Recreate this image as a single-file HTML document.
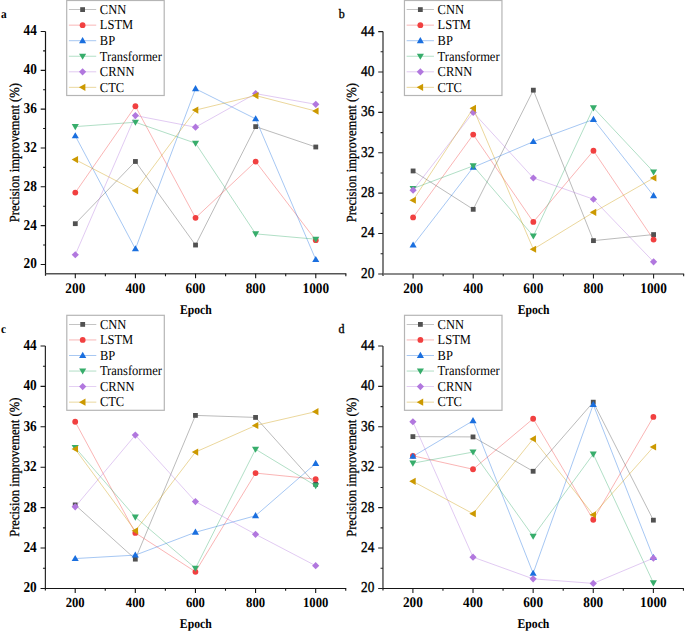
<!DOCTYPE html>
<html><head><meta charset="utf-8"><style>
html,body{margin:0;padding:0;background:#fff;}
svg{display:block;}
text{font-family:"Liberation Serif",serif;fill:#000;text-rendering:geometricPrecision;-webkit-font-smoothing:antialiased;}
.tk{font-size:13.3px;}
.ep{font-size:11.7px;font-weight:bold;}
.yl{font-size:12.6px;stroke:#000;stroke-width:0.25px;}
.lg{font-size:12.5px;}
.pl{font-size:11.3px;}
.pr{font-size:12px;}
</style></head><body>
<svg width="685" height="632" viewBox="0 0 685 632">
<rect width="685" height="632" fill="#fff"/>
<path d="M45.50,31.50V275.75" stroke="#151515" stroke-width="1.2" fill="none"/>
<path d="M45.50,273.75H346.34" stroke="#555" stroke-width="1.4" fill="none"/>
<path d="M40.70,264.45H45.50M40.70,225.62H45.50M40.70,186.80H45.50M40.70,147.97H45.50M40.70,109.15H45.50M40.70,70.33H45.50M40.70,31.50H45.50M43.10,245.04H45.50M43.10,206.21H45.50M43.10,167.39H45.50M43.10,128.56H45.50M43.10,89.74H45.50M43.10,50.91H45.50" stroke="#151515" stroke-width="1.1" fill="none"/>
<path d="M75.30,273.75V278.35M135.42,273.75V278.35M195.54,273.75V278.35M255.66,273.75V278.35M315.78,273.75V278.35M105.36,273.75V276.15M165.48,273.75V276.15M225.60,273.75V276.15M285.72,273.75V276.15M345.84,273.75V276.15" stroke="#151515" stroke-width="1.1" fill="none"/>
<text transform="translate(36.90,268.35) scale(1,1.13)" text-anchor="end" class="tk" font-weight="bold">20</text>
<text transform="translate(36.90,229.53) scale(1,1.13)" text-anchor="end" class="tk" font-weight="bold">24</text>
<text transform="translate(36.90,190.70) scale(1,1.13)" text-anchor="end" class="tk" font-weight="bold">28</text>
<text transform="translate(36.90,151.88) scale(1,1.13)" text-anchor="end" class="tk" font-weight="bold">32</text>
<text transform="translate(36.90,113.05) scale(1,1.13)" text-anchor="end" class="tk" font-weight="bold">36</text>
<text transform="translate(36.90,74.23) scale(1,1.13)" text-anchor="end" class="tk" font-weight="bold">40</text>
<text transform="translate(36.90,35.40) scale(1,1.13)" text-anchor="end" class="tk" font-weight="bold">44</text>
<text transform="translate(75.30,292.55) scale(1,1.1)" text-anchor="middle" class="tk" font-weight="bold">200</text>
<text transform="translate(135.42,292.55) scale(1,1.1)" text-anchor="middle" class="tk" font-weight="bold">400</text>
<text transform="translate(195.54,292.55) scale(1,1.1)" text-anchor="middle" class="tk" font-weight="bold">600</text>
<text transform="translate(255.66,292.55) scale(1,1.1)" text-anchor="middle" class="tk" font-weight="bold">800</text>
<text transform="translate(315.78,292.55) scale(1,1.1)" text-anchor="middle" class="tk" font-weight="bold">1000</text>
<text transform="translate(195.84,313.55) scale(1,1.13)" text-anchor="middle" class="ep">Epoch</text>
<text transform="translate(18.70,152.62) rotate(-90) scale(1,1.1)" text-anchor="middle" class="yl">Precision improvement (%)</text>
<text transform="translate(1.00,18.00) scale(1,1.08)" class="pl" font-weight="bold">a</text>
<path d="M75.30,223.68L135.42,161.47L195.54,245.04L255.66,126.62L315.78,147.00" stroke="#515151" stroke-width="0.75" fill="none" opacity="0.52"/>
<rect x="72.90" y="221.28" width="4.8" height="4.8" fill="#515151"/>
<rect x="133.02" y="159.07" width="4.8" height="4.8" fill="#515151"/>
<rect x="193.14" y="242.64" width="4.8" height="4.8" fill="#515151"/>
<rect x="253.26" y="124.22" width="4.8" height="4.8" fill="#515151"/>
<rect x="313.38" y="144.60" width="4.8" height="4.8" fill="#515151"/>
<path d="M75.30,192.62L135.42,106.24L195.54,217.86L255.66,161.56L315.78,240.18" stroke="#F14040" stroke-width="0.75" fill="none" opacity="0.52"/>
<circle cx="75.30" cy="192.62" r="2.9" fill="#F14040"/>
<circle cx="135.42" cy="106.24" r="2.9" fill="#F14040"/>
<circle cx="195.54" cy="217.86" r="2.9" fill="#F14040"/>
<circle cx="255.66" cy="161.56" r="2.9" fill="#F14040"/>
<circle cx="315.78" cy="240.18" r="2.9" fill="#F14040"/>
<path d="M75.30,135.84L135.42,248.92L195.54,88.77L255.66,118.86L315.78,259.60" stroke="#1A6FDF" stroke-width="0.75" fill="none" opacity="0.52"/>
<path d="M75.30,132.18L78.85,138.28L71.75,138.28Z" fill="#1A6FDF"/>
<path d="M135.42,245.26L138.97,251.36L131.87,251.36Z" fill="#1A6FDF"/>
<path d="M195.54,85.11L199.09,91.21L191.99,91.21Z" fill="#1A6FDF"/>
<path d="M255.66,115.20L259.21,121.30L252.11,121.30Z" fill="#1A6FDF"/>
<path d="M315.78,255.94L319.33,262.04L312.23,262.04Z" fill="#1A6FDF"/>
<path d="M75.30,126.62L135.42,122.25L195.54,143.22L255.66,233.88L315.78,239.21" stroke="#37AD6B" stroke-width="0.75" fill="none" opacity="0.52"/>
<path d="M75.30,130.16L78.85,124.06L71.75,124.06Z" fill="#37AD6B"/>
<path d="M135.42,125.79L138.97,119.69L131.87,119.69Z" fill="#37AD6B"/>
<path d="M195.54,146.76L199.09,140.66L191.99,140.66Z" fill="#37AD6B"/>
<path d="M255.66,237.41L259.21,231.31L252.11,231.31Z" fill="#37AD6B"/>
<path d="M315.78,242.75L319.33,236.65L312.23,236.65Z" fill="#37AD6B"/>
<path d="M75.30,254.74L135.42,115.56L195.54,127.20L255.66,93.62L315.78,104.30" stroke="#B177DE" stroke-width="0.75" fill="none" opacity="0.52"/>
<path d="M75.30,251.14L78.90,254.74L75.30,258.34L71.70,254.74Z" fill="#B177DE"/>
<path d="M135.42,111.96L139.02,115.56L135.42,119.16L131.82,115.56Z" fill="#B177DE"/>
<path d="M195.54,123.60L199.14,127.20L195.54,130.80L191.94,127.20Z" fill="#B177DE"/>
<path d="M255.66,90.02L259.26,93.62L255.66,97.22L252.06,93.62Z" fill="#B177DE"/>
<path d="M315.78,100.70L319.38,104.30L315.78,107.90L312.18,104.30Z" fill="#B177DE"/>
<path d="M75.30,159.62L135.42,190.68L195.54,110.12L255.66,95.56L315.78,111.09" stroke="#CC9900" stroke-width="0.75" fill="none" opacity="0.52"/>
<path d="M71.62,159.62L78.07,156.05L78.07,163.20Z" fill="#CC9900"/>
<path d="M131.74,190.68L138.19,187.11L138.19,194.26Z" fill="#CC9900"/>
<path d="M191.86,110.12L198.31,106.55L198.31,113.70Z" fill="#CC9900"/>
<path d="M251.98,95.56L258.43,91.99L258.43,99.14Z" fill="#CC9900"/>
<path d="M312.10,111.09L318.55,107.52L318.55,114.67Z" fill="#CC9900"/>
<rect x="66.70" y="0.50" width="97.5" height="95.0" fill="#fff" stroke="#b5b5b5" stroke-width="1.2"/>
<path d="M68.90,9.60H96.20" stroke="#515151" stroke-width="0.75" opacity="0.5"/>
<rect x="80.20" y="7.20" width="4.8" height="4.8" fill="#515151"/>
<text transform="translate(99.80,13.90) scale(1,1.1)" class="lg">CNN</text>
<path d="M68.90,25.15H96.20" stroke="#F14040" stroke-width="0.75" opacity="0.5"/>
<circle cx="82.60" cy="25.15" r="2.9" fill="#F14040"/>
<text transform="translate(99.80,29.45) scale(1,1.1)" class="lg">LSTM</text>
<path d="M68.90,40.70H96.20" stroke="#1A6FDF" stroke-width="0.75" opacity="0.5"/>
<path d="M82.60,37.04L86.15,43.14L79.05,43.14Z" fill="#1A6FDF"/>
<text transform="translate(99.80,45.00) scale(1,1.1)" class="lg">BP</text>
<path d="M68.90,56.25H96.20" stroke="#37AD6B" stroke-width="0.75" opacity="0.5"/>
<path d="M82.60,59.79L86.15,53.69L79.05,53.69Z" fill="#37AD6B"/>
<text transform="translate(99.80,60.55) scale(1,1.1)" class="lg">Transformer</text>
<path d="M68.90,71.80H96.20" stroke="#B177DE" stroke-width="0.75" opacity="0.5"/>
<path d="M82.60,68.20L86.20,71.80L82.60,75.40L79.00,71.80Z" fill="#B177DE"/>
<text transform="translate(99.80,76.10) scale(1,1.1)" class="lg">CRNN</text>
<path d="M68.90,87.35H96.20" stroke="#CC9900" stroke-width="0.75" opacity="0.5"/>
<path d="M78.92,87.35L85.37,83.77L85.37,90.92Z" fill="#CC9900"/>
<text transform="translate(99.80,91.65) scale(1,1.1)" class="lg">CTC</text>
<path d="M383.00,31.60V275.95" stroke="#6a6a6a" stroke-width="1.7" fill="none"/>
<path d="M383.00,273.95H684.14" stroke="#666" stroke-width="1.5" fill="none"/>
<path d="M378.20,273.95H383.00M378.20,233.56H383.00M378.20,193.17H383.00M378.20,152.77H383.00M378.20,112.38H383.00M378.20,71.99H383.00M378.20,31.60H383.00M380.60,253.75H383.00M380.60,213.36H383.00M380.60,172.97H383.00M380.60,132.58H383.00M380.60,92.19H383.00M380.60,51.80H383.00" stroke="#222" stroke-width="1.1" fill="none"/>
<path d="M413.10,273.95V278.55M473.22,273.95V278.55M533.34,273.95V278.55M593.46,273.95V278.55M653.58,273.95V278.55M443.16,273.95V276.35M503.28,273.95V276.35M563.40,273.95V276.35M623.52,273.95V276.35M683.64,273.95V276.35" stroke="#222" stroke-width="1.1" fill="none"/>
<text transform="translate(374.40,277.85) scale(1,1.13)" text-anchor="end" class="tk" font-weight="normal" stroke="#000" stroke-width="0.35">20</text>
<text transform="translate(374.40,237.46) scale(1,1.13)" text-anchor="end" class="tk" font-weight="normal" stroke="#000" stroke-width="0.35">24</text>
<text transform="translate(374.40,197.07) scale(1,1.13)" text-anchor="end" class="tk" font-weight="normal" stroke="#000" stroke-width="0.35">28</text>
<text transform="translate(374.40,156.67) scale(1,1.13)" text-anchor="end" class="tk" font-weight="normal" stroke="#000" stroke-width="0.35">32</text>
<text transform="translate(374.40,116.28) scale(1,1.13)" text-anchor="end" class="tk" font-weight="normal" stroke="#000" stroke-width="0.35">36</text>
<text transform="translate(374.40,75.89) scale(1,1.13)" text-anchor="end" class="tk" font-weight="normal" stroke="#000" stroke-width="0.35">40</text>
<text transform="translate(374.40,35.50) scale(1,1.13)" text-anchor="end" class="tk" font-weight="normal" stroke="#000" stroke-width="0.35">44</text>
<text transform="translate(413.10,292.75) scale(1,1.1)" text-anchor="middle" class="tk" font-weight="bold">200</text>
<text transform="translate(473.22,292.75) scale(1,1.1)" text-anchor="middle" class="tk" font-weight="bold">400</text>
<text transform="translate(533.34,292.75) scale(1,1.1)" text-anchor="middle" class="tk" font-weight="bold">600</text>
<text transform="translate(593.46,292.75) scale(1,1.1)" text-anchor="middle" class="tk" font-weight="bold">800</text>
<text transform="translate(653.58,292.75) scale(1,1.1)" text-anchor="middle" class="tk" font-weight="bold">1000</text>
<text transform="translate(533.64,313.75) scale(1,1.13)" text-anchor="middle" class="ep">Epoch</text>
<text transform="translate(356.00,152.78) rotate(-90) scale(1,1.1)" text-anchor="middle" class="yl">Precision improvement (%)</text>
<text transform="translate(338.70,18.00) scale(1,1.08)" class="pr" font-weight="normal" stroke="#000" stroke-width="0.35">b</text>
<path d="M413.10,170.95L473.22,209.32L533.34,90.17L593.46,240.63L653.58,234.57" stroke="#515151" stroke-width="0.75" fill="none" opacity="0.52"/>
<rect x="410.70" y="168.55" width="4.8" height="4.8" fill="#515151"/>
<rect x="470.82" y="206.92" width="4.8" height="4.8" fill="#515151"/>
<rect x="530.94" y="87.77" width="4.8" height="4.8" fill="#515151"/>
<rect x="591.06" y="238.23" width="4.8" height="4.8" fill="#515151"/>
<rect x="651.18" y="232.17" width="4.8" height="4.8" fill="#515151"/>
<path d="M413.10,217.40L473.22,134.60L533.34,221.95L593.46,150.76L653.58,239.62" stroke="#F14040" stroke-width="0.75" fill="none" opacity="0.52"/>
<circle cx="413.10" cy="217.40" r="2.9" fill="#F14040"/>
<circle cx="473.22" cy="134.60" r="2.9" fill="#F14040"/>
<circle cx="533.34" cy="221.95" r="2.9" fill="#F14040"/>
<circle cx="593.46" cy="150.76" r="2.9" fill="#F14040"/>
<circle cx="653.58" cy="239.62" r="2.9" fill="#F14040"/>
<path d="M413.10,245.17L473.22,167.32L533.34,141.67L593.46,119.45L653.58,195.69" stroke="#1A6FDF" stroke-width="0.75" fill="none" opacity="0.52"/>
<path d="M413.10,241.51L416.65,247.61L409.55,247.61Z" fill="#1A6FDF"/>
<path d="M473.22,163.66L476.77,169.76L469.67,169.76Z" fill="#1A6FDF"/>
<path d="M533.34,138.01L536.89,144.11L529.79,144.11Z" fill="#1A6FDF"/>
<path d="M593.46,115.79L597.01,121.89L589.91,121.89Z" fill="#1A6FDF"/>
<path d="M653.58,192.03L657.13,198.13L650.03,198.13Z" fill="#1A6FDF"/>
<path d="M413.10,188.52L473.22,165.90L533.34,236.08L593.46,107.84L653.58,171.96" stroke="#37AD6B" stroke-width="0.75" fill="none" opacity="0.52"/>
<path d="M413.10,192.06L416.65,185.96L409.55,185.96Z" fill="#37AD6B"/>
<path d="M473.22,169.44L476.77,163.34L469.67,163.34Z" fill="#37AD6B"/>
<path d="M533.34,239.62L536.89,233.52L529.79,233.52Z" fill="#37AD6B"/>
<path d="M593.46,111.38L597.01,105.28L589.91,105.28Z" fill="#37AD6B"/>
<path d="M653.58,175.50L657.13,169.40L650.03,169.40Z" fill="#37AD6B"/>
<path d="M413.10,190.14L473.22,112.38L533.34,178.02L593.46,199.23L653.58,261.83" stroke="#B177DE" stroke-width="0.75" fill="none" opacity="0.52"/>
<path d="M413.10,186.54L416.70,190.14L413.10,193.74L409.50,190.14Z" fill="#B177DE"/>
<path d="M473.22,108.78L476.82,112.38L473.22,115.98L469.62,112.38Z" fill="#B177DE"/>
<path d="M533.34,174.42L536.94,178.02L533.34,181.62L529.74,178.02Z" fill="#B177DE"/>
<path d="M593.46,195.63L597.06,199.23L593.46,202.83L589.86,199.23Z" fill="#B177DE"/>
<path d="M653.58,258.23L657.18,261.83L653.58,265.43L649.98,261.83Z" fill="#B177DE"/>
<path d="M413.10,200.24L473.22,108.34L533.34,249.21L593.46,212.35L653.58,178.02" stroke="#CC9900" stroke-width="0.75" fill="none" opacity="0.52"/>
<path d="M409.42,200.24L415.87,196.66L415.87,203.81Z" fill="#CC9900"/>
<path d="M469.54,108.34L475.99,104.77L475.99,111.92Z" fill="#CC9900"/>
<path d="M529.66,249.21L536.11,245.64L536.11,252.79Z" fill="#CC9900"/>
<path d="M589.78,212.35L596.23,208.78L596.23,215.93Z" fill="#CC9900"/>
<path d="M649.90,178.02L656.35,174.44L656.35,181.59Z" fill="#CC9900"/>
<rect x="404.45" y="0.50" width="97.5" height="95.0" fill="#fff" stroke="#b5b5b5" stroke-width="1.2"/>
<path d="M406.65,9.60H433.95" stroke="#515151" stroke-width="0.75" opacity="0.5"/>
<rect x="417.95" y="7.20" width="4.8" height="4.8" fill="#515151"/>
<text transform="translate(437.55,13.90) scale(1,1.1)" class="lg">CNN</text>
<path d="M406.65,25.15H433.95" stroke="#F14040" stroke-width="0.75" opacity="0.5"/>
<circle cx="420.35" cy="25.15" r="2.9" fill="#F14040"/>
<text transform="translate(437.55,29.45) scale(1,1.1)" class="lg">LSTM</text>
<path d="M406.65,40.70H433.95" stroke="#1A6FDF" stroke-width="0.75" opacity="0.5"/>
<path d="M420.35,37.04L423.90,43.14L416.80,43.14Z" fill="#1A6FDF"/>
<text transform="translate(437.55,45.00) scale(1,1.1)" class="lg">BP</text>
<path d="M406.65,56.25H433.95" stroke="#37AD6B" stroke-width="0.75" opacity="0.5"/>
<path d="M420.35,59.79L423.90,53.69L416.80,53.69Z" fill="#37AD6B"/>
<text transform="translate(437.55,60.55) scale(1,1.1)" class="lg">Transformer</text>
<path d="M406.65,71.80H433.95" stroke="#B177DE" stroke-width="0.75" opacity="0.5"/>
<path d="M420.35,68.20L423.95,71.80L420.35,75.40L416.75,71.80Z" fill="#B177DE"/>
<text transform="translate(437.55,76.10) scale(1,1.1)" class="lg">CRNN</text>
<path d="M406.65,87.35H433.95" stroke="#CC9900" stroke-width="0.75" opacity="0.5"/>
<path d="M416.67,87.35L423.12,83.77L423.12,90.92Z" fill="#CC9900"/>
<text transform="translate(437.55,91.65) scale(1,1.1)" class="lg">CTC</text>
<path d="M45.35,346.00V590.45" stroke="#151515" stroke-width="1.1" fill="none"/>
<path d="M45.35,588.45H346.24" stroke="#151515" stroke-width="1.1" fill="none"/>
<path d="M40.55,588.45H45.35M40.55,548.04H45.35M40.55,507.63H45.35M40.55,467.23H45.35M40.55,426.82H45.35M40.55,386.41H45.35M40.55,346.00H45.35M42.95,568.25H45.35M42.95,527.84H45.35M42.95,487.43H45.35M42.95,447.02H45.35M42.95,406.61H45.35M42.95,366.20H45.35" stroke="#151515" stroke-width="1.1" fill="none"/>
<path d="M75.20,588.45V593.05M135.32,588.45V593.05M195.44,588.45V593.05M255.56,588.45V593.05M315.68,588.45V593.05M105.26,588.45V590.85M165.38,588.45V590.85M225.50,588.45V590.85M285.62,588.45V590.85M345.74,588.45V590.85" stroke="#151515" stroke-width="1.1" fill="none"/>
<text transform="translate(36.75,592.35) scale(1,1.13)" text-anchor="end" class="tk" font-weight="bold">20</text>
<text transform="translate(36.75,551.94) scale(1,1.13)" text-anchor="end" class="tk" font-weight="bold">24</text>
<text transform="translate(36.75,511.53) scale(1,1.13)" text-anchor="end" class="tk" font-weight="bold">28</text>
<text transform="translate(36.75,471.12) scale(1,1.13)" text-anchor="end" class="tk" font-weight="bold">32</text>
<text transform="translate(36.75,430.72) scale(1,1.13)" text-anchor="end" class="tk" font-weight="bold">36</text>
<text transform="translate(36.75,390.31) scale(1,1.13)" text-anchor="end" class="tk" font-weight="bold">40</text>
<text transform="translate(36.75,349.90) scale(1,1.13)" text-anchor="end" class="tk" font-weight="bold">44</text>
<text transform="translate(75.20,606.95) scale(1,1.1)" text-anchor="middle" class="tk" font-weight="bold" style="font-size:12.7px">200</text>
<text transform="translate(135.32,606.95) scale(1,1.1)" text-anchor="middle" class="tk" font-weight="bold" style="font-size:12.7px">400</text>
<text transform="translate(195.44,606.95) scale(1,1.1)" text-anchor="middle" class="tk" font-weight="bold" style="font-size:12.7px">600</text>
<text transform="translate(255.56,606.95) scale(1,1.1)" text-anchor="middle" class="tk" font-weight="bold" style="font-size:12.7px">800</text>
<text transform="translate(315.68,606.95) scale(1,1.1)" text-anchor="middle" class="tk" font-weight="bold" style="font-size:12.7px">1000</text>
<text transform="translate(195.74,628.25) scale(1,1.13)" text-anchor="middle" class="ep">Epoch</text>
<text transform="translate(18.50,467.23) rotate(-90) scale(1,1.1)" text-anchor="middle" class="yl">Precision improvement (%)</text>
<text transform="translate(0.90,332.80) scale(1,1.08)" class="pl" font-weight="bold">c</text>
<path d="M75.20,504.91L135.32,559.15L195.44,415.40L255.56,417.42L315.68,484.40" stroke="#515151" stroke-width="0.75" fill="none" opacity="0.52"/>
<rect x="72.80" y="502.51" width="4.8" height="4.8" fill="#515151"/>
<rect x="132.92" y="556.75" width="4.8" height="4.8" fill="#515151"/>
<rect x="193.04" y="413.00" width="4.8" height="4.8" fill="#515151"/>
<rect x="253.16" y="415.02" width="4.8" height="4.8" fill="#515151"/>
<rect x="313.28" y="482.00" width="4.8" height="4.8" fill="#515151"/>
<path d="M75.20,421.77L135.32,532.89L195.44,571.78L255.56,473.08L315.68,479.15" stroke="#F14040" stroke-width="0.75" fill="none" opacity="0.52"/>
<circle cx="75.20" cy="421.77" r="2.9" fill="#F14040"/>
<circle cx="135.32" cy="532.89" r="2.9" fill="#F14040"/>
<circle cx="195.44" cy="571.78" r="2.9" fill="#F14040"/>
<circle cx="255.56" cy="473.08" r="2.9" fill="#F14040"/>
<circle cx="315.68" cy="479.15" r="2.9" fill="#F14040"/>
<path d="M75.20,558.55L135.32,555.11L195.44,532.28L255.56,515.72L315.68,463.49" stroke="#1A6FDF" stroke-width="0.75" fill="none" opacity="0.52"/>
<path d="M75.20,554.89L78.75,560.99L71.65,560.99Z" fill="#1A6FDF"/>
<path d="M135.32,551.45L138.87,557.55L131.77,557.55Z" fill="#1A6FDF"/>
<path d="M195.44,528.62L198.99,534.72L191.89,534.72Z" fill="#1A6FDF"/>
<path d="M255.56,512.06L259.11,518.16L252.01,518.16Z" fill="#1A6FDF"/>
<path d="M315.68,459.83L319.23,465.93L312.13,465.93Z" fill="#1A6FDF"/>
<path d="M75.20,447.53L135.32,517.13L195.44,568.25L255.56,449.24L315.68,485.71" stroke="#37AD6B" stroke-width="0.75" fill="none" opacity="0.52"/>
<path d="M75.20,451.06L78.75,444.96L71.65,444.96Z" fill="#37AD6B"/>
<path d="M135.32,520.67L138.87,514.57L131.77,514.57Z" fill="#37AD6B"/>
<path d="M195.44,571.78L198.99,565.68L191.89,565.68Z" fill="#37AD6B"/>
<path d="M255.56,452.78L259.11,446.68L252.01,446.68Z" fill="#37AD6B"/>
<path d="M315.68,489.25L319.23,483.15L312.13,483.15Z" fill="#37AD6B"/>
<path d="M75.20,506.83L135.32,435.10L195.44,501.57L255.56,534.30L315.68,565.72" stroke="#B177DE" stroke-width="0.75" fill="none" opacity="0.52"/>
<path d="M75.20,503.23L78.80,506.83L75.20,510.43L71.60,506.83Z" fill="#B177DE"/>
<path d="M135.32,431.50L138.92,435.10L135.32,438.70L131.72,435.10Z" fill="#B177DE"/>
<path d="M195.44,497.97L199.04,501.57L195.44,505.17L191.84,501.57Z" fill="#B177DE"/>
<path d="M255.56,530.70L259.16,534.30L255.56,537.90L251.96,534.30Z" fill="#B177DE"/>
<path d="M315.68,562.12L319.28,565.72L315.68,569.32L312.08,565.72Z" fill="#B177DE"/>
<path d="M75.20,449.04L135.32,530.87L195.44,452.07L255.56,425.50L315.68,411.66" stroke="#CC9900" stroke-width="0.75" fill="none" opacity="0.52"/>
<path d="M71.52,449.04L77.97,445.47L77.97,452.62Z" fill="#CC9900"/>
<path d="M131.64,530.87L138.09,527.29L138.09,534.44Z" fill="#CC9900"/>
<path d="M191.76,452.07L198.21,448.50L198.21,455.65Z" fill="#CC9900"/>
<path d="M251.88,425.50L258.33,421.93L258.33,429.08Z" fill="#CC9900"/>
<path d="M312.00,411.66L318.45,408.09L318.45,415.24Z" fill="#CC9900"/>
<rect x="66.80" y="315.30" width="97.5" height="95.0" fill="#fff" stroke="#b5b5b5" stroke-width="1.2"/>
<path d="M69.00,324.40H96.30" stroke="#515151" stroke-width="0.75" opacity="0.5"/>
<rect x="80.30" y="322.00" width="4.8" height="4.8" fill="#515151"/>
<text transform="translate(99.90,328.70) scale(1,1.1)" class="lg">CNN</text>
<path d="M69.00,339.95H96.30" stroke="#F14040" stroke-width="0.75" opacity="0.5"/>
<circle cx="82.70" cy="339.95" r="2.9" fill="#F14040"/>
<text transform="translate(99.90,344.25) scale(1,1.1)" class="lg">LSTM</text>
<path d="M69.00,355.50H96.30" stroke="#1A6FDF" stroke-width="0.75" opacity="0.5"/>
<path d="M82.70,351.84L86.25,357.94L79.15,357.94Z" fill="#1A6FDF"/>
<text transform="translate(99.90,359.80) scale(1,1.1)" class="lg">BP</text>
<path d="M69.00,371.05H96.30" stroke="#37AD6B" stroke-width="0.75" opacity="0.5"/>
<path d="M82.70,374.59L86.25,368.49L79.15,368.49Z" fill="#37AD6B"/>
<text transform="translate(99.90,375.35) scale(1,1.1)" class="lg">Transformer</text>
<path d="M69.00,386.60H96.30" stroke="#B177DE" stroke-width="0.75" opacity="0.5"/>
<path d="M82.70,383.00L86.30,386.60L82.70,390.20L79.10,386.60Z" fill="#B177DE"/>
<text transform="translate(99.90,390.90) scale(1,1.1)" class="lg">CRNN</text>
<path d="M69.00,402.15H96.30" stroke="#CC9900" stroke-width="0.75" opacity="0.5"/>
<path d="M79.02,402.15L85.47,398.58L85.47,405.73Z" fill="#CC9900"/>
<text transform="translate(99.90,406.45) scale(1,1.1)" class="lg">CTC</text>
<path d="M382.95,346.00V590.45" stroke="#6a6a6a" stroke-width="1.7" fill="none"/>
<path d="M382.95,588.45H683.94" stroke="#151515" stroke-width="1.1" fill="none"/>
<path d="M378.15,588.45H382.95M378.15,548.04H382.95M378.15,507.63H382.95M378.15,467.23H382.95M378.15,426.82H382.95M378.15,386.41H382.95M378.15,346.00H382.95M380.55,568.25H382.95M380.55,527.84H382.95M380.55,487.43H382.95M380.55,447.02H382.95M380.55,406.61H382.95M380.55,366.20H382.95" stroke="#222" stroke-width="1.1" fill="none"/>
<path d="M412.90,588.45V593.05M473.02,588.45V593.05M533.14,588.45V593.05M593.26,588.45V593.05M653.38,588.45V593.05M442.96,588.45V590.85M503.08,588.45V590.85M563.20,588.45V590.85M623.32,588.45V590.85M683.44,588.45V590.85" stroke="#222" stroke-width="1.1" fill="none"/>
<text transform="translate(374.35,592.35) scale(1,1.13)" text-anchor="end" class="tk" font-weight="normal" stroke="#000" stroke-width="0.35">20</text>
<text transform="translate(374.35,551.94) scale(1,1.13)" text-anchor="end" class="tk" font-weight="normal" stroke="#000" stroke-width="0.35">24</text>
<text transform="translate(374.35,511.53) scale(1,1.13)" text-anchor="end" class="tk" font-weight="normal" stroke="#000" stroke-width="0.35">28</text>
<text transform="translate(374.35,471.12) scale(1,1.13)" text-anchor="end" class="tk" font-weight="normal" stroke="#000" stroke-width="0.35">32</text>
<text transform="translate(374.35,430.72) scale(1,1.13)" text-anchor="end" class="tk" font-weight="normal" stroke="#000" stroke-width="0.35">36</text>
<text transform="translate(374.35,390.31) scale(1,1.13)" text-anchor="end" class="tk" font-weight="normal" stroke="#000" stroke-width="0.35">40</text>
<text transform="translate(374.35,349.90) scale(1,1.13)" text-anchor="end" class="tk" font-weight="normal" stroke="#000" stroke-width="0.35">44</text>
<text transform="translate(412.90,607.25) scale(1,1.1)" text-anchor="middle" class="tk" font-weight="bold">200</text>
<text transform="translate(473.02,607.25) scale(1,1.1)" text-anchor="middle" class="tk" font-weight="bold">400</text>
<text transform="translate(533.14,607.25) scale(1,1.1)" text-anchor="middle" class="tk" font-weight="bold">600</text>
<text transform="translate(593.26,607.25) scale(1,1.1)" text-anchor="middle" class="tk" font-weight="bold">800</text>
<text transform="translate(653.38,607.25) scale(1,1.1)" text-anchor="middle" class="tk" font-weight="bold">1000</text>
<text transform="translate(533.44,628.25) scale(1,1.13)" text-anchor="middle" class="ep">Epoch</text>
<text transform="translate(356.00,467.23) rotate(-90) scale(1,1.1)" text-anchor="middle" class="yl">Precision improvement (%)</text>
<text transform="translate(338.50,332.80) scale(1,1.08)" class="pr" font-weight="normal" stroke="#000" stroke-width="0.35">d</text>
<path d="M412.90,436.62L473.02,436.92L533.14,471.27L593.26,402.17L653.38,520.16" stroke="#515151" stroke-width="0.75" fill="none" opacity="0.52"/>
<rect x="410.50" y="434.22" width="4.8" height="4.8" fill="#515151"/>
<rect x="470.62" y="434.52" width="4.8" height="4.8" fill="#515151"/>
<rect x="530.74" y="468.87" width="4.8" height="4.8" fill="#515151"/>
<rect x="590.86" y="399.77" width="4.8" height="4.8" fill="#515151"/>
<rect x="650.98" y="517.76" width="4.8" height="4.8" fill="#515151"/>
<path d="M412.90,455.81L473.02,469.25L533.14,418.74L593.26,519.76L653.38,416.92" stroke="#F14040" stroke-width="0.75" fill="none" opacity="0.52"/>
<circle cx="412.90" cy="455.81" r="2.9" fill="#F14040"/>
<circle cx="473.02" cy="469.25" r="2.9" fill="#F14040"/>
<circle cx="533.14" cy="418.74" r="2.9" fill="#F14040"/>
<circle cx="593.26" cy="519.76" r="2.9" fill="#F14040"/>
<circle cx="653.38" cy="416.92" r="2.9" fill="#F14040"/>
<path d="M412.90,456.42L473.02,420.76L533.14,573.30L593.26,404.59L653.38,557.64" stroke="#1A6FDF" stroke-width="0.75" fill="none" opacity="0.52"/>
<path d="M412.90,452.76L416.45,458.86L409.35,458.86Z" fill="#1A6FDF"/>
<path d="M473.02,417.10L476.57,423.20L469.47,423.20Z" fill="#1A6FDF"/>
<path d="M533.14,569.64L536.69,575.74L529.59,575.74Z" fill="#1A6FDF"/>
<path d="M593.26,400.93L596.81,407.03L589.71,407.03Z" fill="#1A6FDF"/>
<path d="M653.38,553.98L656.93,560.08L649.83,560.08Z" fill="#1A6FDF"/>
<path d="M412.90,463.18L473.02,452.07L533.14,536.32L593.26,454.09L653.38,582.89" stroke="#37AD6B" stroke-width="0.75" fill="none" opacity="0.52"/>
<path d="M412.90,466.72L416.45,460.62L409.35,460.62Z" fill="#37AD6B"/>
<path d="M473.02,455.61L476.57,449.51L469.47,449.51Z" fill="#37AD6B"/>
<path d="M533.14,539.86L536.69,533.76L529.59,533.76Z" fill="#37AD6B"/>
<path d="M593.26,457.63L596.81,451.53L589.71,451.53Z" fill="#37AD6B"/>
<path d="M653.38,586.43L656.93,580.33L649.83,580.33Z" fill="#37AD6B"/>
<path d="M412.90,421.77L473.02,557.13L533.14,578.85L593.26,583.40L653.38,558.14" stroke="#B177DE" stroke-width="0.75" fill="none" opacity="0.52"/>
<path d="M412.90,418.17L416.50,421.77L412.90,425.37L409.30,421.77Z" fill="#B177DE"/>
<path d="M473.02,553.53L476.62,557.13L473.02,560.73L469.42,557.13Z" fill="#B177DE"/>
<path d="M533.14,575.25L536.74,578.85L533.14,582.45L529.54,578.85Z" fill="#B177DE"/>
<path d="M593.26,579.80L596.86,583.40L593.26,587.00L589.66,583.40Z" fill="#B177DE"/>
<path d="M653.38,554.54L656.98,558.14L653.38,561.74L649.78,558.14Z" fill="#B177DE"/>
<path d="M412.90,481.37L473.02,513.69L533.14,438.94L593.26,514.70L653.38,447.02" stroke="#CC9900" stroke-width="0.75" fill="none" opacity="0.52"/>
<path d="M409.22,481.37L415.67,477.79L415.67,484.94Z" fill="#CC9900"/>
<path d="M469.34,513.69L475.79,510.12L475.79,517.27Z" fill="#CC9900"/>
<path d="M529.46,438.94L535.91,435.36L535.91,442.51Z" fill="#CC9900"/>
<path d="M589.58,514.70L596.03,511.13L596.03,518.28Z" fill="#CC9900"/>
<path d="M649.70,447.02L656.15,443.45L656.15,450.60Z" fill="#CC9900"/>
<rect x="404.50" y="315.30" width="97.5" height="95.0" fill="#fff" stroke="#b5b5b5" stroke-width="1.2"/>
<path d="M406.70,324.40H434.00" stroke="#515151" stroke-width="0.75" opacity="0.5"/>
<rect x="418.00" y="322.00" width="4.8" height="4.8" fill="#515151"/>
<text transform="translate(437.60,328.70) scale(1,1.1)" class="lg">CNN</text>
<path d="M406.70,339.95H434.00" stroke="#F14040" stroke-width="0.75" opacity="0.5"/>
<circle cx="420.40" cy="339.95" r="2.9" fill="#F14040"/>
<text transform="translate(437.60,344.25) scale(1,1.1)" class="lg">LSTM</text>
<path d="M406.70,355.50H434.00" stroke="#1A6FDF" stroke-width="0.75" opacity="0.5"/>
<path d="M420.40,351.84L423.95,357.94L416.85,357.94Z" fill="#1A6FDF"/>
<text transform="translate(437.60,359.80) scale(1,1.1)" class="lg">BP</text>
<path d="M406.70,371.05H434.00" stroke="#37AD6B" stroke-width="0.75" opacity="0.5"/>
<path d="M420.40,374.59L423.95,368.49L416.85,368.49Z" fill="#37AD6B"/>
<text transform="translate(437.60,375.35) scale(1,1.1)" class="lg">Transformer</text>
<path d="M406.70,386.60H434.00" stroke="#B177DE" stroke-width="0.75" opacity="0.5"/>
<path d="M420.40,383.00L424.00,386.60L420.40,390.20L416.80,386.60Z" fill="#B177DE"/>
<text transform="translate(437.60,390.90) scale(1,1.1)" class="lg">CRNN</text>
<path d="M406.70,402.15H434.00" stroke="#CC9900" stroke-width="0.75" opacity="0.5"/>
<path d="M416.72,402.15L423.17,398.58L423.17,405.73Z" fill="#CC9900"/>
<text transform="translate(437.60,406.45) scale(1,1.1)" class="lg">CTC</text>
</svg>
</body></html>
